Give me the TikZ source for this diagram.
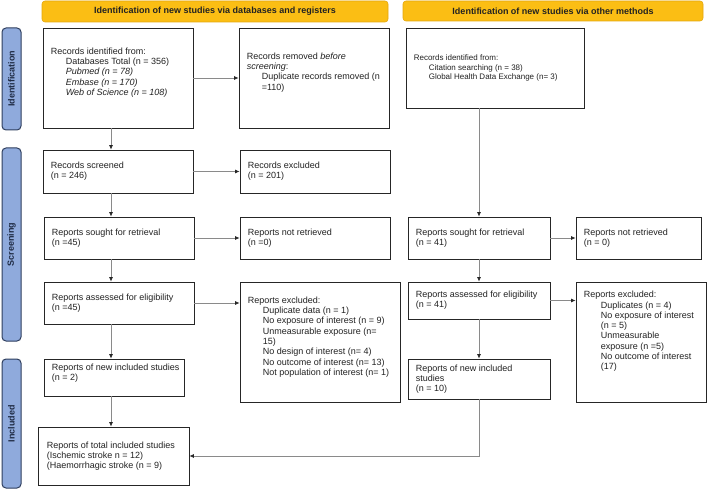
\documentclass[tikz,border=0pt]{standalone}
\usepackage{fontspec}
\setmainfont{Liberation Sans}
\usetikzlibrary{arrows.meta,calc}
\definecolor{hdr}{HTML}{FBBE14}
\definecolor{hdrb}{HTML}{E3A70C}
\definecolor{side}{HTML}{8FAADC}
\definecolor{sideb}{HTML}{2E3E5E}
\definecolor{sidet}{HTML}{1F2B44}
\definecolor{txt}{HTML}{222222}
\definecolor{conn}{HTML}{8A8A8A}
\begin{document}
\begin{tikzpicture}[x=1pt,y=-1pt,
 bx/.style={draw=black!85, line width=0.8pt, fill=white, inner sep=0pt},
 tx/.style={anchor=west, align=left, inner sep=0pt, text=txt, font=\fontsize{9}{10.3}\selectfont},
 txs/.style={tx, font=\fontsize{8}{9.6}\selectfont},
 hd/.style={draw=hdrb, fill=hdr, rounded corners=3pt, line width=0.6pt, inner sep=0pt, font=\fontsize{9}{10}\selectfont\bfseries, text=txt},
 sd/.style={draw=sideb, fill=side, rounded corners=4pt, line width=1pt, inner sep=0pt, rotate=90, minimum height=19pt, font=\fontsize{9}{10}\selectfont\bfseries, text=sidet},
 ar/.style={draw=conn, line width=0.7pt, -{Latex[length=4.5pt,width=4pt,color=black!85]}},
 ln/.style={draw=conn, line width=0.7pt}]
\useasboundingbox (0,0) rectangle (708,489);

% headers
\node[hd, minimum width=346pt, minimum height=21pt] (h1) at (215,11.5) {Identification of new studies via databases and registers};
\node[hd, minimum width=300pt, minimum height=20pt] (h2) at (553,11) {Identification of new studies via other methods};

% side bars
\node[sd, minimum width=102pt] (s1) at (11.5,79) {Identification};
\node[sd, minimum width=193pt] (s2) at (11.5,244.5) {Screening};
\node[sd, minimum width=129pt] (s3) at (11.5,423.5) {Included};

% boxes
\node[bx, minimum width=150pt, minimum height=100pt] (A) at (118,78) {};
\node[tx] (At) at ([xshift=8pt,yshift=5.5pt]A.west) {Records identified from:\\
\hspace*{15pt}Databases Total (n = 356)\\
\hspace*{15pt}\textit{Pubmed (n = 78)}\\
\hspace*{15pt}\textit{Embase (n = 170)}\\
\hspace*{15pt}\textit{Web of Science (n = 108)}};

\node[bx, minimum width=150pt, minimum height=100pt] (B) at (314,78) {};
\node[tx] (Bt) at ([xshift=8pt,yshift=5.5pt]B.west) {Records removed \textit{before}\\
\textit{screening}:\\
\hspace*{15pt}Duplicate records removed (n\\
\hspace*{15pt}=110)};

\node[bx, minimum width=178pt, minimum height=80pt] (C) at (495,68) {};
\node[txs] (Ct) at ([xshift=8pt]C.west) {Records identified from:\\
\hspace*{15pt}Citation searching (n = 38)\\
\hspace*{15pt}Global Health Data Exchange (n= 3)};

\node[bx, minimum width=150pt, minimum height=43pt] (D) at (118,171.5) {};
\node[tx] (Dt) at ([xshift=8pt]D.west) {Records screened\\(n = 246)};

\node[bx, minimum width=150pt, minimum height=43pt] (E) at (315,171.5) {};
\node[tx] (Et) at ([xshift=8pt]E.west) {Records excluded\\(n = 201)};

\node[bx, minimum width=150pt, minimum height=42pt] (F) at (119,238) {};
\node[tx] (Ft) at ([xshift=8pt]F.west) {Reports sought for retrieval\\(n =45)};

\node[bx, minimum width=150pt, minimum height=42pt] (G) at (315,238) {};
\node[tx] (Gt) at ([xshift=8pt]G.west) {Reports not retrieved\\(n =0)};

\node[bx, minimum width=150pt, minimum height=42pt] (H) at (119,303) {};
\node[tx] (Ht) at ([xshift=8pt]H.west) {Reports assessed for eligibility\\(n =45)};

\node[bx, minimum width=160pt, minimum height=120pt] (I) at (320,342) {};
\node[tx] (It) at ([xshift=8pt,yshift=5pt]I.west) {Reports excluded:\\
\hspace*{15pt}Duplicate data (n = 1)\\
\hspace*{15pt}No exposure of interest (n = 9)\\
\hspace*{15pt}Unmeasurable exposure (n=\\
\hspace*{15pt}15)\\
\hspace*{15pt}No design of interest (n= 4)\\
\hspace*{15pt}No outcome of interest (n= 13)\\
\hspace*{15pt}Not population of interest (n= 1)};

\node[bx, minimum width=140pt, minimum height=37pt] (J) at (114,377.5) {};
\node[tx] (Jt) at ([xshift=8pt,yshift=4pt]J.west) {Reports of new included studies\\(n = 2)};

\node[bx, minimum width=151pt, minimum height=58pt] (K) at (113.5,456) {};
\node[tx] (Kt) at ([xshift=9pt]K.west) {Reports of total included studies\\(Ischemic stroke n = 12)\\(Haemorrhagic stroke (n = 9)};

\node[bx, minimum width=142pt, minimum height=42pt] (L) at (479,238) {};
\node[tx] (Lt) at ([xshift=8pt]L.west) {Reports sought for retrieval\\(n = 41)};

\node[bx, minimum width=125pt, minimum height=42pt] (M) at (638.5,238) {};
\node[tx] (Mt) at ([xshift=8pt]M.west) {Reports not retrieved\\(n = 0)};

\node[bx, minimum width=142pt, minimum height=37pt] (N) at (479,300.5) {};
\node[tx] (Nt) at ([xshift=8pt]N.west) {Reports assessed for eligibility\\(n = 41)};

\node[bx, minimum width=130pt, minimum height=120pt] (O) at (641,342) {};
\node[tx] (Ot) at ([xshift=8pt,yshift=10.5pt]O.west) {Reports excluded:\\
\hspace*{17pt}Duplicates (n = 4)\\
\hspace*{17pt}No exposure of interest\\
\hspace*{17pt}(n = 5)\\
\hspace*{17pt}Unmeasurable\\
\hspace*{17pt}exposure (n =5)\\
\hspace*{17pt}No outcome of interest\\
\hspace*{17pt}(17)};

\node[bx, minimum width=142pt, minimum height=40pt] (P) at (479,379) {};
\node[tx] (Pt) at ([xshift=8pt]P.west) {Reports of new included\\studies\\(n = 10)};

% connectors
\coordinate (lx) at (111,0);
\draw[ar] (A.south -| lx) -- (D.north -| lx);
\draw[ar] (D.south -| lx) -- (F.north -| lx);
\draw[ar] (F.south -| lx) -- (H.north -| lx);
\draw[ar] (H.south -| lx) -- (J.north -| lx);
\draw[ar] (J.south -| lx) -- (K.north -| lx);

\draw[ar] (A.east) -- (B.west);
\draw[ar] (D.east) -- (E.west);
\draw[ar] (F.east) -- (G.west);
\draw[ar] (H.east) -- (H.east -| I.west);

\draw[ar] (L.north |- C.south) -- (L.north);
\draw[ar] (L.south) -- (N.north);
\draw[ar] (N.south) -- (P.north);
\draw[ar] (L.east) -- (M.west);
\draw[ar] (N.east) -- (N.east -| O.west);
\draw[ar] (P.south) |- (K.east);
\end{tikzpicture}
\end{document}
